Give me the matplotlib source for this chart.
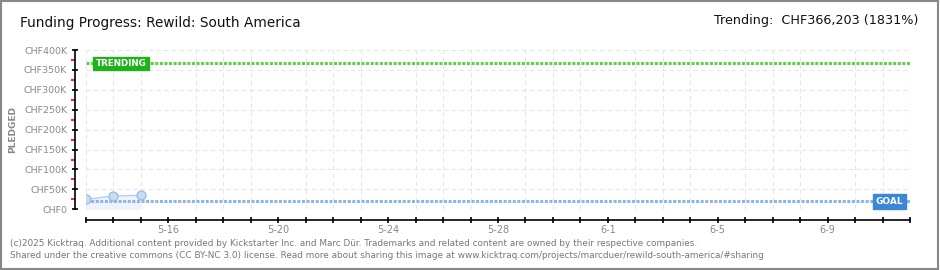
import matplotlib
matplotlib.use("Agg")
import matplotlib.pyplot as plt
import matplotlib.dates as mdates
import matplotlib.patches as mpatches
import pandas as pd

# data
dates = pd.to_datetime(["2025-05-13", "2025-05-14", "2025-05-15"])
pledged = [25000, 33500, 35000]
goal = 20000
trending = 366203
start_date = pd.Timestamp("2025-05-13")
end_date = pd.Timestamp("2025-06-12")
yticks = [0, 50000, 100000, 150000, 200000, 250000, 300000, 350000, 400000]
ylabels = ["CHF0", "CHF50K", "CHF100K", "CHF150K", "CHF200K", "CHF250K",
           "CHF300K", "CHF350K", "CHF400K"]

plt.rcParams['font.family'] = ['DejaVu Sans']
gray = "#888888"

fig = plt.figure(figsize=(9.4, 2.7), dpi=100)
ax = fig.add_axes([86/940, 60.7/270, 824/940, 159.3/270])

# grid
ax.set_axisbelow(True)
ax.grid(True, which="major", axis="y", color="#e6e6e6", linestyle=(0, (4, 3)), lw=0.8)
ax.grid(True, which="minor", axis="x", color="#e6e6e6", linestyle=(0, (4, 3)), lw=0.8)

# pledged
ax.fill_between(dates, pledged, 0, color="#edf4fc", lw=0)
ax.plot(dates, pledged, color="#b5d0ee", lw=1, marker="o", ms=6.5,
        mfc="#c6dcf4", mec="#93b6de", mew=0.8, zorder=4)

# goal / trending lines
ax.axhline(goal, color="#8db6e2", lw=2.2, linestyle=(0, (1, 0.5)), zorder=3)
ax.axhline(trending, color="#62cf4c", lw=2.2, linestyle=(0, (1, 0.5)), zorder=3)

ax.set_xlim(start_date, end_date)
ax.set_ylim(0, 400000)

# labels on lines
ax.text(start_date + pd.Timedelta(days=0.35), trending, "TRENDING", color="white",
        fontsize=6.3, fontweight="bold", ha="left", va="center", zorder=6,
        bbox=dict(boxstyle="square,pad=0.28", fc="#1fb31a", ec="#1fb31a"))
ax.text(end_date - pd.Timedelta(days=0.25), goal, "GOAL", color="white",
        fontsize=6.5, fontweight="bold", ha="right", va="center", zorder=6,
        bbox=dict(boxstyle="square,pad=0.3", fc="#3b87d6", ec="#3b87d6"))

# axes styling
for s in ["top", "right"]:
    ax.spines[s].set_visible(False)
ax.spines["left"].set_position(("outward", 8))
ax.spines["bottom"].set_position(("outward", 8))
ax.spines["left"].set_linewidth(1.2)
ax.spines["bottom"].set_linewidth(1.2)

ax.set_yticks(yticks)
ax.set_yticklabels(ylabels, fontsize=6.8, color=gray)
ax.set_yticks([25000 + 50000 * i for i in range(8)], minor=True)
ax.tick_params(axis="y", which="major", direction="inout", length=5, width=1.2, pad=3)
ax.tick_params(axis="y", which="minor", direction="out", length=3, width=1.2, color="red")

ax.xaxis.set_minor_locator(mdates.DayLocator())
ax.xaxis.set_major_formatter(plt.FuncFormatter(
    lambda v, p: f"{mdates.num2date(v).month}-{mdates.num2date(v).day}"))
ax.set_xticks(pd.date_range("2025-05-16", "2025-06-09", freq="4D"))
ax.tick_params(axis="x", which="both", direction="inout", length=4.5, width=1.2,
               labelsize=7, labelcolor=gray, pad=1)

ax.set_ylabel("PLEDGED", fontsize=6.5, color=gray, fontweight="bold", labelpad=5)

# header
fig.text(20/940, 1 - 23/270, "Funding Progress: Rewild: South America",
         fontsize=9.8, color="#111111", ha="left", va="center")
fig.text(918/940, 1 - 21/270, "Trending:  CHF366,203 (1831%)",
         fontsize=9.2, color="#111111", ha="right", va="center")

# footer
fig.text(10/940, 1 - 243/270,
         "(c)2025 Kicktraq. Additional content provided by Kickstarter Inc. and Marc Dür. "
         "Trademarks and related content are owned by their respective companies.",
         fontsize=6.4, color="#777777", ha="left", va="center")
fig.text(10/940, 1 - 256/270,
         "Shared under the creative commons (CC BY-NC 3.0) license. Read more about sharing "
         "this image at www.kicktraq.com/projects/marcduer/rewild-south-america/#sharing",
         fontsize=6.4, color="#777777", ha="left", va="center")

# outer frame
fig.patches.append(mpatches.Rectangle((0.001, 0.002), 0.997, 0.995, transform=fig.transFigure,
                                      fill=False, ec="#888888", lw=1.5))

fig.savefig("out.png", dpi=100)
